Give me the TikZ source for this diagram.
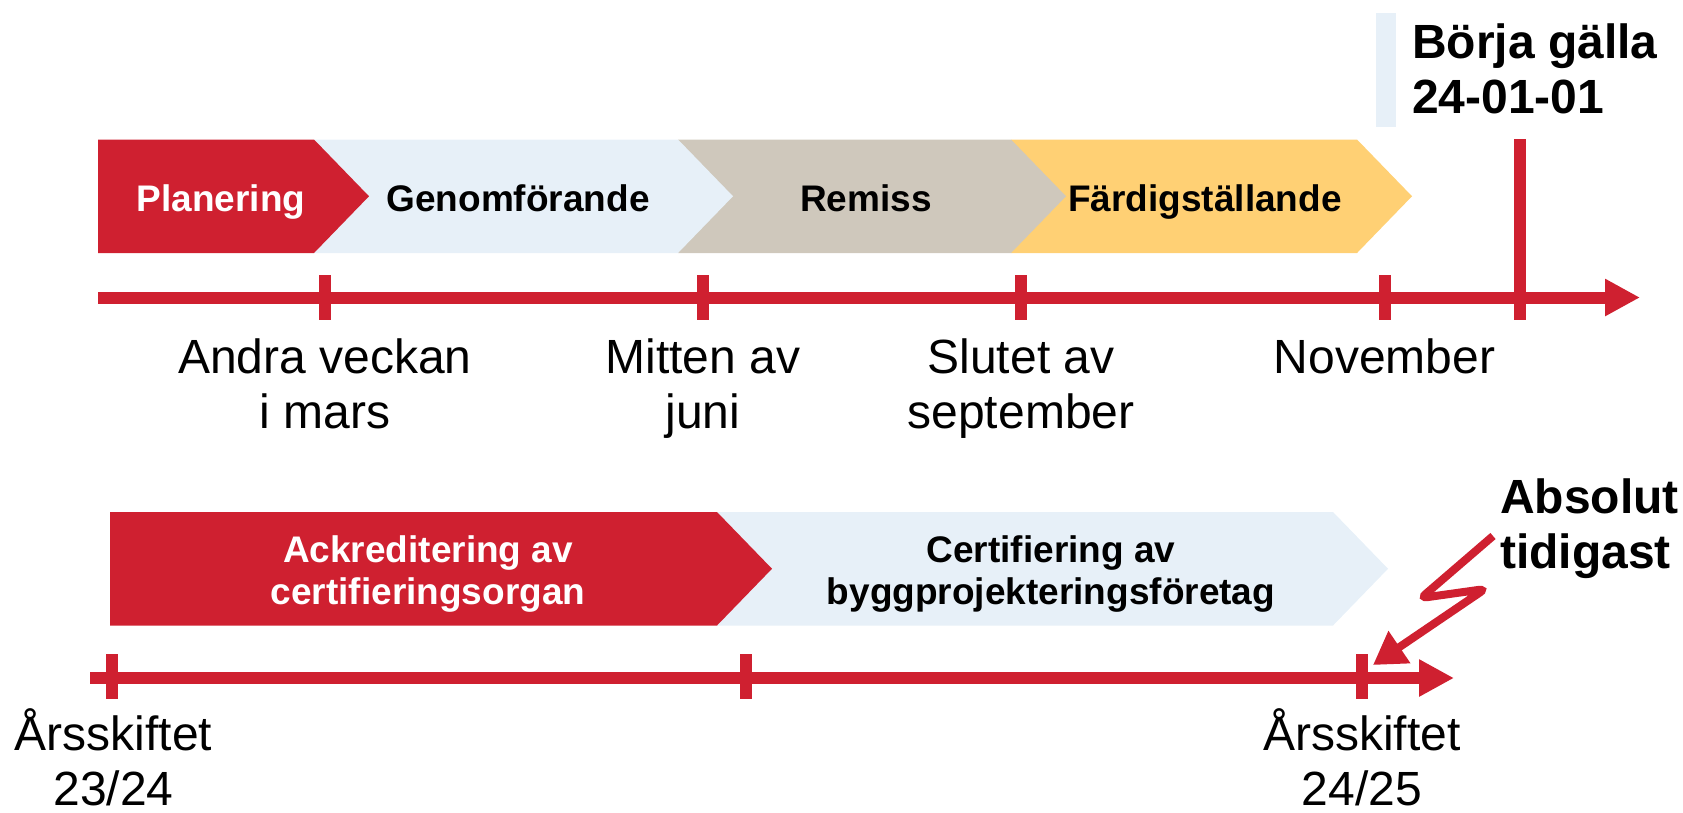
\documentclass[tikz,border=0pt]{standalone}
\usepackage{fontspec}
\setmainfont{Liberation Sans}
\usetikzlibrary{arrows.meta}

\definecolor{rod}{RGB}{207,32,48}
\definecolor{ljusbla}{RGB}{231,240,248}
\definecolor{gra}{RGB}{207,200,188}
\definecolor{gul}{RGB}{255,208,116}

% fas: vänster, höger, topp, botten, färg
\newcommand{\fasform}[5]{%
  \fill[#5] (#1,#3) -- (#2,#3) -- ({#2+55},{(#3+#4)/2}) -- (#2,#4) -- (#1,#4) -- cycle;}

\tikzset{
  tidaxel/.style={draw=rod, line width=12pt, -{Triangle[length=35pt,width=35pt]}},
  streck/.style={draw=rod, line width=12pt},
  blixt/.style={draw=rod, line width=8pt, rounded corners=6pt, -{Triangle[length=32pt,width=37pt]}},
  etikett/.style={font=\fontsize{48}{55}\selectfont, align=center, anchor=base, inner sep=0pt},
  rubrik/.style={font=\bfseries\fontsize{48}{55}\selectfont, align=left, anchor=base west, inner sep=0pt},
  fastext/.style={font=\bfseries\fontsize{37}{42.5}\selectfont, align=center, anchor=base, inner sep=0pt},
}

\begin{document}
\begin{tikzpicture}[x=1pt, y=-1pt]
\useasboundingbox (0,0) rectangle (1683,812);

% övre faser (ritas från höger)
\fasform{1011}{1357}{139.5}{253}{gul}
\fasform{678}{1011}{139.5}{253}{gra}
\fasform{314}{678}{139.5}{253}{ljusbla}
\fasform{98}{314}{139.5}{253}{rod}
\node[fastext, text=white] (planering) at (221,211.5) {Planering};
\node[fastext] (genomforande) at (518,211.5) {Genomförande};
\node[fastext] (remiss) at (866,211.5) {Remiss};
\node[fastext] (fardig) at (1205,211.5) {Färdigställande};

% övre tidslinje
\coordinate (a0) at (98,297.5);
\coordinate (a1) at (1640,297.5);
\draw[tidaxel] (a0) -- (a1);
\foreach \x/\n in {325/t1, 703/t2, 1021/t3, 1384.5/t4}{
  \coordinate (\n) at (\x,297.5);
  \draw[streck] ([yshift=22.5pt]\n) -- ([yshift=-22.5pt]\n);
}
\coordinate (g0) at (1520,139);
\coordinate (g1) at (1520,320);
\draw[streck] (g0) -- (g1);
\fill[ljusbla] (1376,13) rectangle (1396,127);
\node[rubrik] (borja) at (1412,113) {Börja gälla\\24-01-01};

% etiketter (baslinje = sista raden)
\node[etikett] (mars) at (325,428) {Andra veckan\\i mars};
\node[etikett] (juni) at (703,428) {Mitten av\\juni};
\node[etikett] (sept) at (1021,428) {Slutet av\\september};
\node[etikett] (nov) at (1384.5,373) {November};

% undre faser
\fasform{717}{1333}{512}{625.5}{ljusbla}
\fasform{110}{717}{512}{625.5}{rod}
\node[fastext, text=white] (ackred) at (428,604.5) {Ackreditering av\\certifieringsorgan};
\node[fastext] (certif) at (1051,604.5) {Certifiering av\\byggprojekteringsföretag};

% undre tidslinje
\coordinate (b0) at (90,678);
\coordinate (b1) at (1454,678);
\draw[tidaxel] (b0) -- (b1);
\foreach \x/\n in {112/u1, 746/u2, 1362/u3}{
  \coordinate (\n) at (\x,676.5);
  \draw[streck] ([yshift=22.5pt]\n) -- ([yshift=-22.5pt]\n);
}
\node[etikett, text depth=0pt] (ar1) at (113.5,805) {Årsskiftet\\23/24};
\node[etikett, text depth=0pt] (ar2) at (1362,805) {Årsskiftet\\24/25};

% blixtpil
\node[rubrik] (absolut) at (1500,568) {Absolut\\tidigast};
\coordinate (z0) at (1493,536);
\coordinate (z1) at (1421,598);
\coordinate (z2) at (1485,589);
\coordinate (z3) at (1373,665);
\draw[blixt] (z0) -- (z1) -- (z2) -- (z3);
\end{tikzpicture}
\end{document}
